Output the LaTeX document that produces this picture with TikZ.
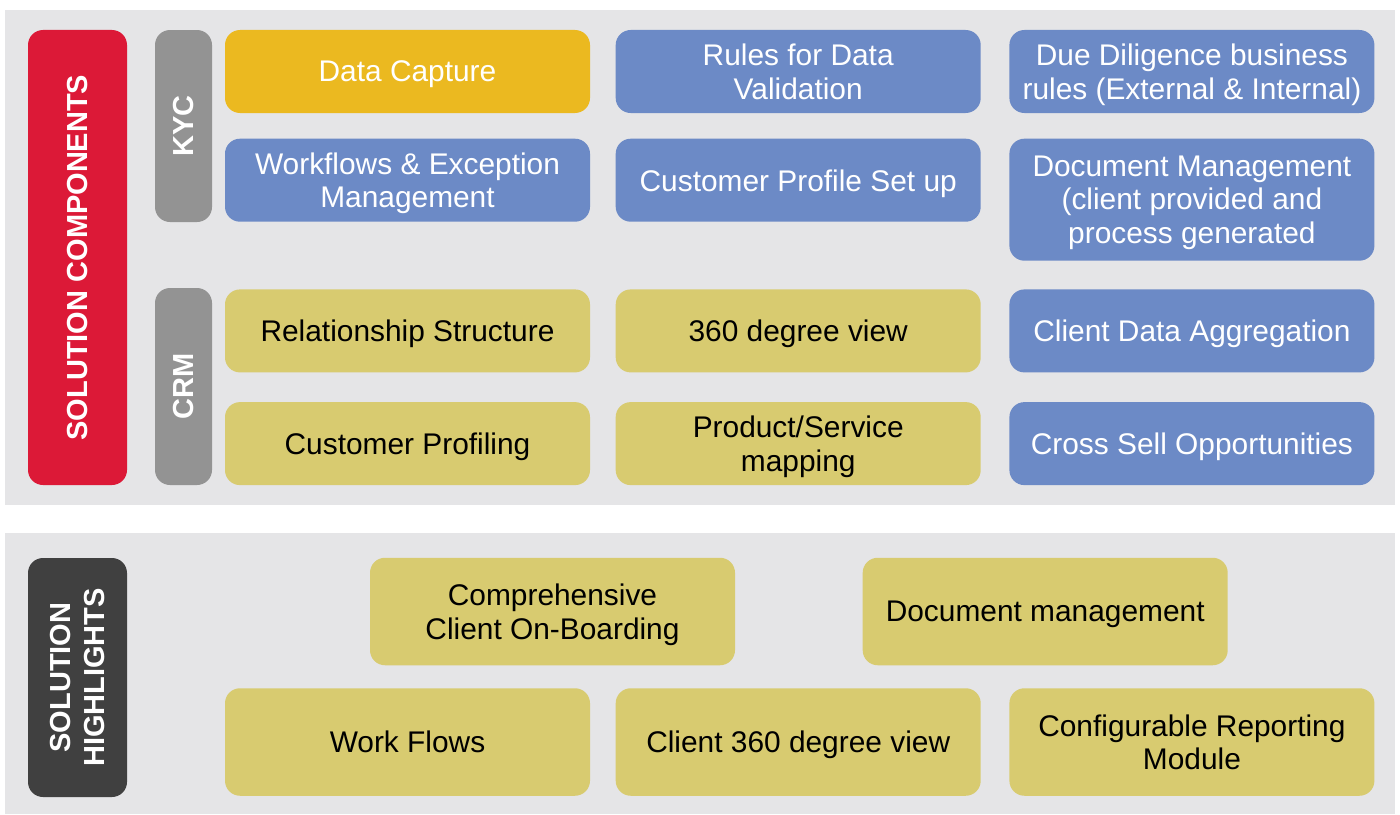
\documentclass[tikz,border=0pt]{standalone}
\usepackage{fontspec}
\setmainfont{Liberation Sans}
\usepackage{tikz}
\usetikzlibrary{positioning}

\definecolor{panelgray}{HTML}{E5E5E7}
\definecolor{compred}{HTML}{DC1937}
\definecolor{grouptag}{HTML}{939393}
\definecolor{hldark}{HTML}{404040}
\definecolor{capgold}{HTML}{EBB920}
\definecolor{kycblue}{HTML}{6C8AC6}
\definecolor{crmkhaki}{HTML}{D8CB70}

\begin{document}
\begin{tikzpicture}[
  node distance=0.5cm and 0.5cm,
  box/.style={rounded corners=0.3cm, align=center, minimum width=7.3cm, minimum height=1.66cm, inner sep=2pt, text depth=0pt, font=\fontsize{17}{19}\selectfont},
  capbox/.style={box, fill=capgold, text=white},
  kycbox/.style={box, fill=kycblue, text=white},
  crmbox/.style={box, fill=crmkhaki, text=black},
  hlbox/.style={crmbox, minimum height=2.15cm},
  tag/.style={rounded corners=0.3cm, align=center, rotate=90, text=white, inner sep=0pt, font=\bfseries\fontsize{16.5}{19}\selectfont}
]
\useasboundingbox (0,0) rectangle (28,-16.28);

% panels
\fill[panelgray] (0.1,-0.2) rectangle (27.9,-10.1);
\fill[panelgray] (0.1,-10.66) rectangle (27.9,-16.28);

% solution components
\node[tag, fill=compred, minimum width=9.1cm, minimum height=1.98cm] (comp) at (1.55,-5.15) {SOLUTION COMPONENTS};
\node[tag, fill=grouptag, minimum width=3.84cm, minimum height=1.14cm] (kyc) at (3.67,-2.52) {KYC};
\node[tag, fill=grouptag, minimum width=3.94cm, minimum height=1.14cm] (crm) at (3.67,-7.73) {CRM};

% KYC rows
\node[capbox] (capture) at (8.15,-1.43) {Data Capture};
\node[kycbox, right=0.5cm of capture] (valid) {Rules for Data\\Validation};
\node[kycbox, right=0.56cm of valid] (dilig) {Due Diligence business\\rules (External \& Internal)};
\node[kycbox, below=0.5cm of capture] (flows) {Workflows \& Exception\\Management};
\node[kycbox, below=0.5cm of valid] (profile) {Customer Profile Set up};
\node[kycbox, below=0.5cm of dilig, minimum height=2.44cm] (docs) {Document Management\\(client provided and\\process generated};

% CRM rows
\node[crmbox, below=1.34cm of flows] (relat) {Relationship Structure};
\node[crmbox, right=0.5cm of relat] (view) {360 degree view};
\node[kycbox, right=0.56cm of view] (aggr) {Client Data Aggregation};
\node[crmbox, below=0.58cm of relat] (profiling) {Customer Profiling};
\node[crmbox, right=0.5cm of profiling] (mapping) {Product/Service\\mapping};
\node[kycbox, right=0.56cm of mapping] (cross) {Cross Sell Opportunities};

% solution highlights
\node[tag, fill=hldark, minimum width=4.78cm, minimum height=1.98cm] (hilite) at (1.55,-13.55) {SOLUTION\\HIGHLIGHTS};
\node[hlbox] (onboard) at (11.05,-12.23) {Comprehensive\\Client On-Boarding};
\node[hlbox, right=2.54cm of onboard] (docmgmt) {Document management};
\node[hlbox] (wflows) at (8.15,-14.84) {Work Flows};
\node[hlbox, right=0.5cm of wflows] (cview) {Client 360 degree view};
\node[hlbox, right=0.56cm of cview] (report) {Configurable Reporting\\Module};
\end{tikzpicture}
\end{document}
